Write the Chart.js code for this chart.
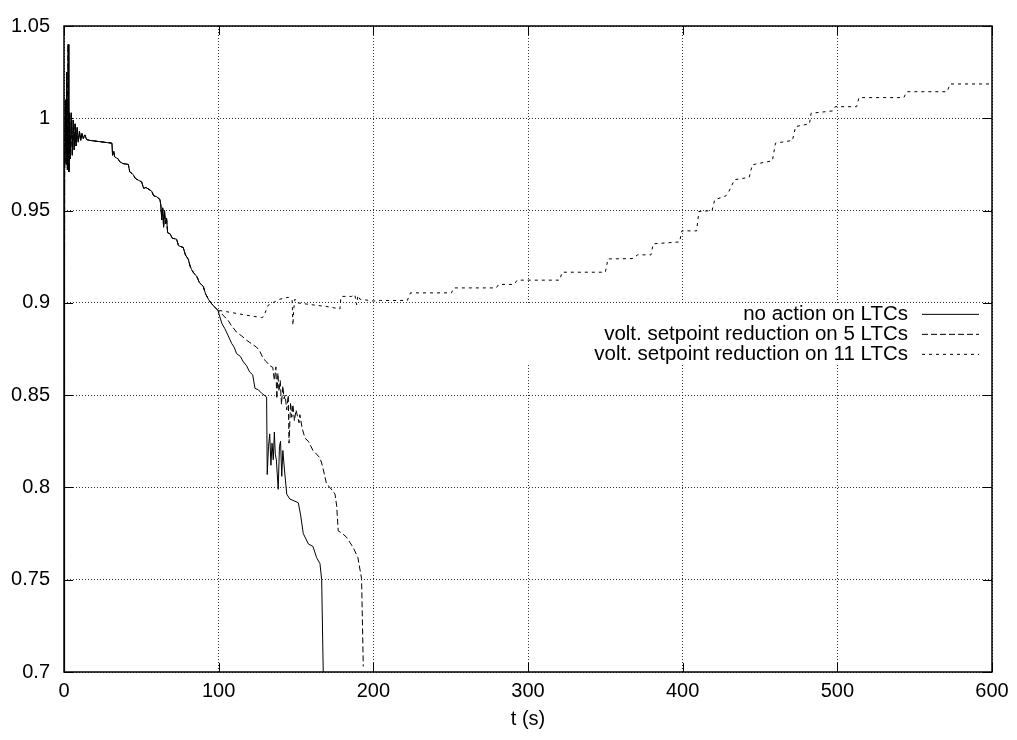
<!DOCTYPE html>
<html>
<head>
<meta charset="utf-8">
<script src="https://cdn.jsdelivr.net/npm/chart.js@4"></script>
<style>
  body { margin: 0; background: #fff; }
  canvas { display: block; }
</style>
</head>
<body>
<canvas id="voltChart" width="1017" height="740"></canvas>
<script>
// common trunk (all three runs identical up to ~100 s)
var tCommon = [0, 0.4, 0.9, 1.3, 1.7, 2.2, 2.7, 3.2, 3.7, 4.2, 4.8, 5.4, 6.0, 6.6, 7.2, 7.8, 8.5, 9.2, 10, 10.8,
    11.6, 12.5, 13.5, 14.6, 16.8, 31, 31.4, 32.2, 32.8, 35, 36, 38, 41.6, 42.5, 44.8, 46, 48, 50.2, 51.5, 53,
    56.7, 58, 60, 62, 62.6, 63.2, 63.8, 64.4, 65, 65.6, 66.3, 67, 68.5, 70, 72.8, 74, 77.1, 78.5, 80.4, 81.5,
    82.5, 84, 85.8, 87.5, 90, 91.5, 93.3, 95, 96.5, 99.5];
var vCommon = [0.70, 0.97, 1.01, 0.975, 1.025, 0.972, 1.04, 0.971, 1.003, 0.978, 1.003, 0.98, 0.999, 0.983, 0.997, 0.985, 0.995, 0.987, 0.993, 0.988,
    0.992, 0.989, 0.991, 0.9885, 0.988, 0.9865, 0.980, 0.982, 0.979, 0.978, 0.9765, 0.9755, 0.975, 0.971, 0.9695, 0.9675, 0.9665, 0.9655, 0.962, 0.9625,
    0.9605, 0.958, 0.9575, 0.956, 0.953, 0.945, 0.9515, 0.941, 0.950, 0.943, 0.946, 0.938, 0.9375, 0.935, 0.9345, 0.931, 0.930, 0.926, 0.9235, 0.920,
    0.918, 0.916, 0.9145, 0.911, 0.909, 0.905, 0.902, 0.900, 0.8985, 0.896];

// no action on LTCs
var tNoAction = [102, 104, 106, 108.4, 110, 111.6, 114, 116, 118, 120, 122, 123.5, 125.5, 127.8, 131, 131.4, 132.2, 133, 133.8, 134.5,
    135.3, 136, 136.6, 137.3, 138.5, 139.3, 140, 140.8, 141.5, 142.5, 144, 146, 148, 151.5, 153, 154.7, 158, 161, 163.3, 165.5,
    166.6, 167.6];
var vNoAction = [0.889, 0.886, 0.8825, 0.878, 0.876, 0.8725, 0.871, 0.868, 0.866, 0.8626, 0.861, 0.8536, 0.853, 0.851, 0.849, 0.807, 0.822, 0.829, 0.812, 0.824,
    0.815, 0.83, 0.818, 0.815, 0.799, 0.822, 0.825, 0.806, 0.82, 0.81, 0.7964, 0.7937, 0.793, 0.7917, 0.785, 0.775, 0.7694, 0.768, 0.762, 0.7587,
    0.75, 0.70];

// volt. setpoint reduction on 5 LTCs
var t5 = [102, 106, 108, 111.6, 115, 118, 121, 124.5, 126.5, 128.8, 131, 133, 135, 136, 137, 137.6, 138.3, 139, 139.8, 140.6,
    141.5, 142.3, 143, 144, 145, 145.5, 146.5, 147.3, 148, 149, 150, 152, 152.5, 154, 155.8, 158, 161, 163.3, 165.5, 167,
    169.8, 172, 175.2, 176.3, 177.3, 180, 182.7, 185, 187, 190, 192.4, 193.5];
var v5 = [0.894, 0.8906, 0.888, 0.8841, 0.882, 0.8798, 0.878, 0.876, 0.874, 0.8698, 0.868, 0.866, 0.865, 0.858, 0.8653, 0.848, 0.862, 0.852, 0.858, 0.845,
    0.855, 0.848, 0.85, 0.842, 0.85, 0.824, 0.846, 0.838, 0.845, 0.836, 0.842, 0.835, 0.8394, 0.832, 0.8267, 0.825, 0.82, 0.818, 0.816, 0.812,
    0.8017, 0.80, 0.7964, 0.79, 0.7765, 0.775, 0.773, 0.770, 0.7674, 0.762, 0.7506, 0.703];

// volt. setpoint reduction on 11 LTCs
var t11 = [103, 107.3, 118, 127.8, 129, 132, 136, 139.6, 145, 147.5, 148, 148.6, 149.3, 151, 160, 170, 178.4, 179, 180, 186,
    188, 189.2, 190, 191.3, 200, 204.6, 222, 224, 250.5, 252, 279.5, 281, 291, 293, 320.5, 322, 350, 351.7, 368, 370.8,
    379.5, 381, 398, 399.5, 409, 410.5, 419, 420.7, 428, 429.7, 433.5, 443, 445, 458, 460, 471, 473, 482, 483, 497,
    498.7, 512.5, 514, 543, 544.8, 571, 572.9, 600];
var v11 = [0.8955, 0.8949, 0.8933, 0.892, 0.8925, 0.8987, 0.9005, 0.902, 0.903, 0.9014, 0.8879, 0.897, 0.902, 0.900, 0.899, 0.898, 0.8967, 0.903, 0.9035, 0.9035,
    0.9045, 0.899, 0.904, 0.902, 0.901, 0.9013, 0.9013, 0.9054, 0.9054, 0.9081, 0.9081, 0.910, 0.910, 0.9123, 0.9123, 0.9166, 0.9166, 0.9238, 0.924, 0.926,
    0.926, 0.932, 0.933, 0.939, 0.939, 0.9495, 0.95, 0.9558, 0.958, 0.960, 0.9667, 0.968, 0.9748, 0.977, 0.9865, 0.988, 0.9955, 0.997, 1.0027, 1.004,
    1.0063, 1.0063, 1.0112, 1.0112, 1.0144, 1.0144, 1.0186, 1.0186];

var xTicks = [0, 100, 200, 300, 400, 500, 600];
var yTicks = [0.7, 0.75, 0.8, 0.85, 0.9, 0.95, 1, 1.05];

var seriesNames = ["no action on LTCs", "volt. setpoint reduction on 5 LTCs", "volt. setpoint reduction on 11 LTCs"];

var FONT = "'Liberation Sans', Arial, Helvetica, sans-serif";

function toPoints(ts, vs) {
    var pts = [];
    for (var i = 0; i < ts.length; i++) {
        pts.push({ x: ts[i], y: vs[i] });
    }
    return pts;
}

function makeSet(label, ts, vs, dash) {
    return {
        label: label,
        data: toPoints(tCommon.concat(ts), vCommon.concat(vs)),
        borderColor: "#000",
        borderWidth: 1,
        borderDash: dash,
        pointRadius: 0,
        tension: 0,
        fill: false
    };
}

// white key box, then the key text + line samples (gnuplot style)
var keyPlugin = {
    id: "gnuplotKey",
    afterDatasetsDraw: function (chart) {
        var ctx = chart.ctx, area = chart.chartArea;
        var y0 = chart.scales.y.getPixelForValue(0.9);
        ctx.save();
        ctx.fillStyle = "#fff";
        ctx.fillRect(area.left + 454, y0 + 1, area.right - area.left - 455, 60);
        ctx.font = "20.5px " + FONT;
        ctx.textAlign = "right";
        ctx.textBaseline = "middle";
        ctx.fillStyle = "#000";
        chart.data.datasets.forEach(function (ds, i) {
            var yy = y0 + 11 + i * 20;
            ctx.fillText(ds.label, area.right - 84, yy);
            ctx.beginPath();
            ctx.lineWidth = 1;
            ctx.strokeStyle = "#000";
            ctx.setLineDash(ds.borderDash || []);
            ctx.moveTo(area.right - 70, yy + 0.5);
            ctx.lineTo(area.right - 13, yy + 0.5);
            ctx.stroke();
        });
        ctx.restore();
    },
    afterDraw: function (chart) {
        // frame and inward tick marks
        var ctx = chart.ctx, a = chart.chartArea, tl = 9;
        ctx.save();
        ctx.strokeStyle = "#000";
        ctx.lineWidth = 1.5;
        ctx.setLineDash([]);
        ctx.strokeRect(a.left, a.top, a.right - a.left, a.bottom - a.top);
        ctx.lineWidth = 1;
        ctx.beginPath();
        chart.scales.x.ticks.forEach(function (t) {
            var px = Math.round(chart.scales.x.getPixelForValue(t.value)) + 0.5;
            ctx.moveTo(px, a.bottom); ctx.lineTo(px, a.bottom - tl);
            ctx.moveTo(px, a.top); ctx.lineTo(px, a.top + tl);
        });
        chart.scales.y.ticks.forEach(function (t) {
            var py = Math.round(chart.scales.y.getPixelForValue(t.value)) + 0.5;
            ctx.moveTo(a.left, py); ctx.lineTo(a.left + tl, py);
            ctx.moveTo(a.right, py); ctx.lineTo(a.right - tl, py);
        });
        ctx.stroke();
        ctx.restore();
    }
};

var chart = new Chart(document.getElementById("voltChart").getContext("2d"), {
    type: "line",
    data: {
        datasets: [
            makeSet(seriesNames[0], tNoAction, vNoAction, []),
            makeSet(seriesNames[1], t5, v5, [6, 3]),
            makeSet(seriesNames[2], t11, v11, [3, 4])
        ]
    },
    options: {
        responsive: false,
        animation: false,
        devicePixelRatio: 1,
        layout: { padding: { top: 22, right: 25, left: 0, bottom: 0 } },
        plugins: { legend: { display: false }, tooltip: { enabled: false } },
        scales: {
            x: {
                type: "linear",
                min: 0,
                max: 600,
                afterBuildTicks: function (s) { s.ticks = xTicks.map(function (v) { return { value: v }; }); },
                afterFit: function (s) { s.height = 68; },
                ticks: { color: "#000", font: { family: FONT, size: 20 }, padding: 7, maxRotation: 0 },
                grid: { color: "rgba(0,0,0,0.8)", lineWidth: 1, drawTicks: false },
                border: { display: false, dash: [1, 2] },
                title: { display: true, text: "t (s)", color: "#000", font: { family: FONT, size: 20 }, padding: { top: 0, bottom: 9 } }
            },
            y: {
                type: "linear",
                min: 0.7,
                max: 1.05,
                afterBuildTicks: function (s) { s.ticks = yTicks.map(function (v) { return { value: v }; }); },
                afterFit: function (s) { s.width = 64; },
                ticks: {
                    color: "#000",
                    font: { family: FONT, size: 20 },
                    padding: 14,
                    callback: function (v) { return String(Math.round(v * 100) / 100); }
                },
                grid: { color: "rgba(0,0,0,0.8)", lineWidth: 1, drawTicks: false },
                border: { display: false, dash: [1, 2] }
            }
        }
    },
    plugins: [keyPlugin]
});
</script>
</body>
</html>
